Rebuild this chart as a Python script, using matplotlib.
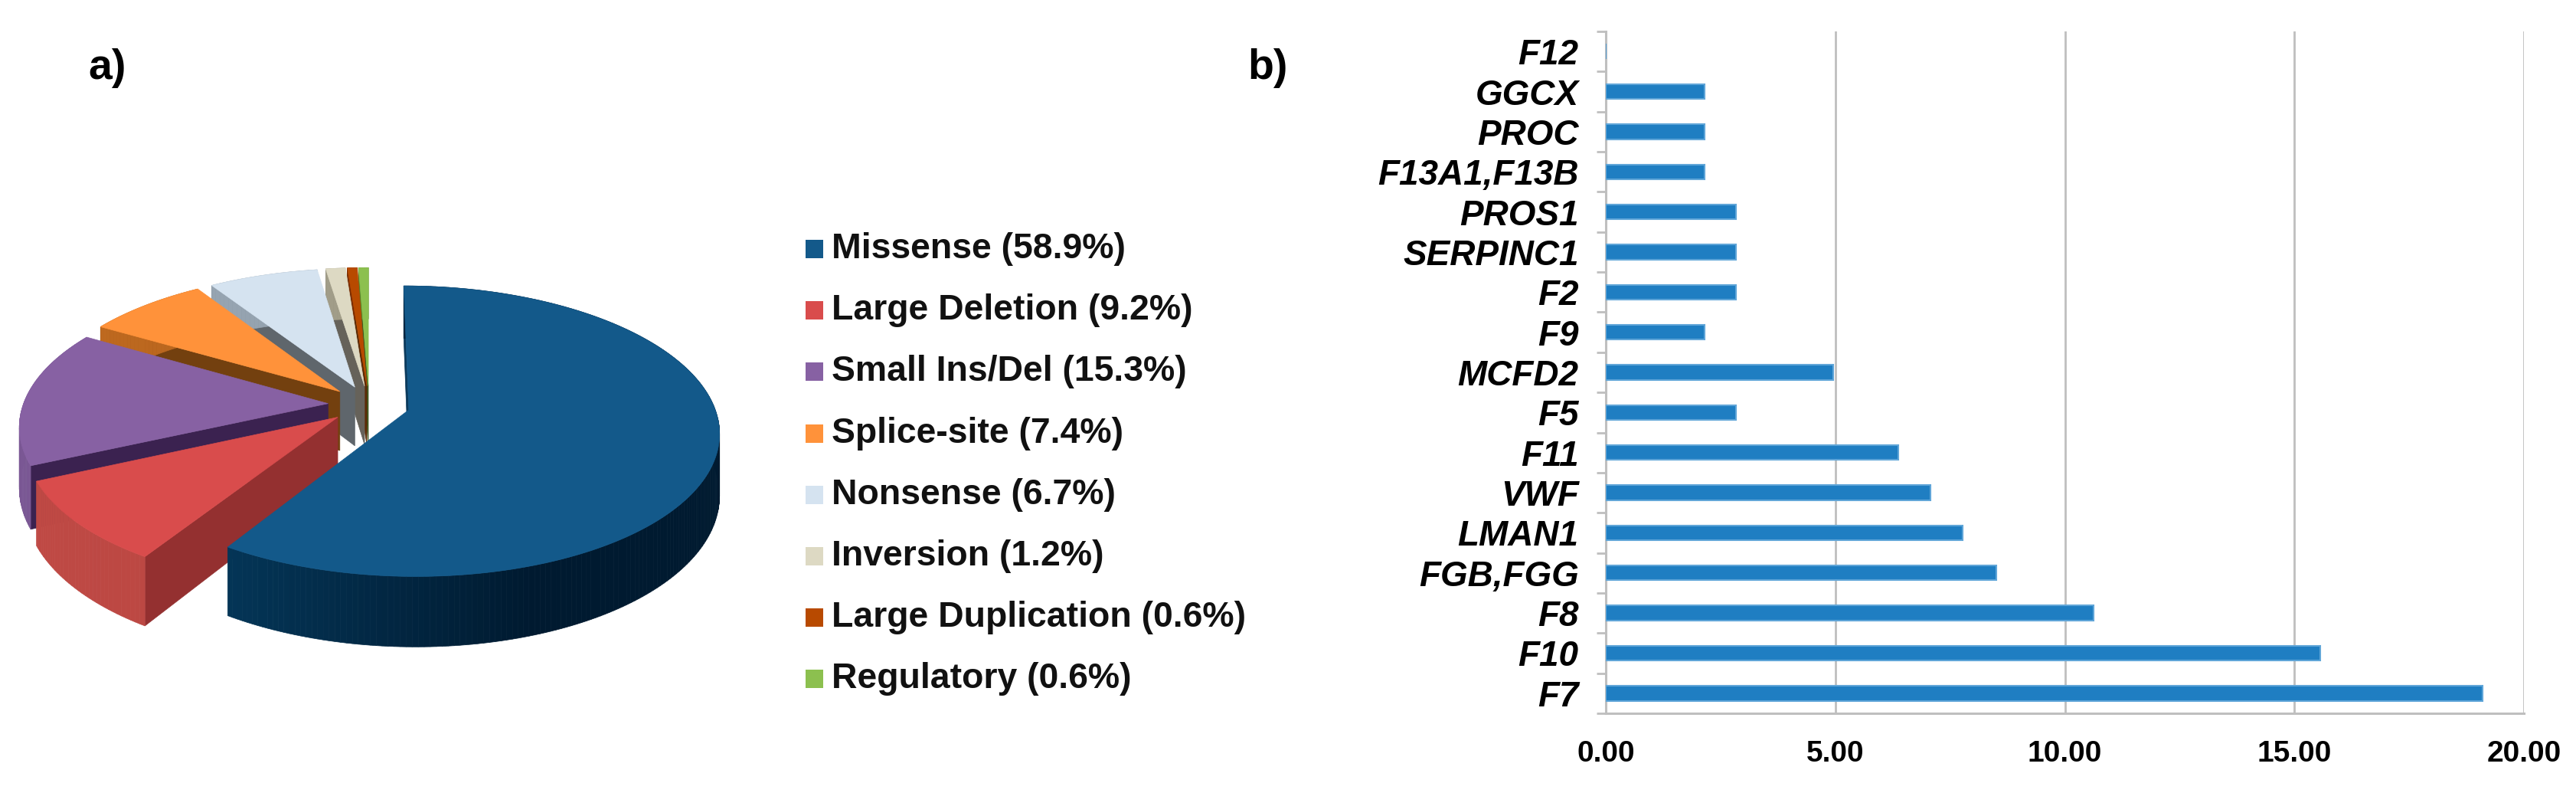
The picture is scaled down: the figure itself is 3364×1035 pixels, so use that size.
#!/usr/bin/env python3
"""Mutation types (3D exploded pie) and gene shares (bar chart)"""

import numpy as np
import matplotlib
matplotlib.use('Agg')
import matplotlib.pyplot as plt
from matplotlib.colors import to_rgb
from matplotlib.patches import Polygon, Rectangle

plt.rcParams['font.family'] = ['Liberation Sans', 'DejaVu Sans']

# Pie data
mutation_types = ['Missense', 'Large Deletion', 'Small Ins/Del', 'Splice-site',
                  'Nonsense', 'Inversion', 'Large Duplication', 'Regulatory']
mutation_pct = [58.9, 9.2, 15.3, 7.4, 6.7, 1.2, 0.6, 0.6]
top_colors = ['#13598A', '#D94C4C', '#8761A3', '#FF923A',
              '#D5E3F0', '#DDD9C3', '#B84A00', '#8CC04F']
wall_colors = ['#0B3A5C', '#943030', '#3B2250', '#73400F',
               '#5F666C', '#66625A', '#5A2A05', '#3F5A20']
rim_left = ['#06446C', '#C04A45', '#7A5794', '#C06A20',
            '#9AA8B5', '#A8A490', '#803000', '#60882F']
rim_right = ['#001A30', '#B0403C', '#6A4A84', '#A05818',
             '#8A98A5', '#98947F', '#702800', '#507820']

# Bar data
genes = ['F7', 'F10', 'F8', 'FGB,FGG', 'LMAN1', 'VWF', 'F11', 'F5', 'MCFD2',
         'F9', 'F2', 'SERPINC1', 'PROS1', 'F13A1,F13B', 'PROC', 'GGCX', 'F12']
gene_pct = [19.1, 15.57, 10.62, 8.5, 7.78, 7.08, 6.37, 2.83, 4.95,
            2.15, 2.83, 2.83, 2.83, 2.15, 2.15, 2.15, 0.0]
x_ticks = [0, 5, 10, 15, 20]

W, H = 3364, 1035

# Pie projection settings (pixels)
CX, CY = 482, 528
RX, RY = 398, 183.5
PERSP = 0.146
EXPLODE = 0.135
DEPTH = 78


def project(x, y, drop=0.0):
    """Project a point of the pie plane to pixel coordinates"""
    s = 1.0 / (1.0 + PERSP * y)
    return CX + RX * x * s, CY - RY * y * s + DEPTH * drop * s


def draw_pie(ax):
    fractions = np.array(mutation_pct) / sum(mutation_pct)
    edges = np.concatenate([[0], np.cumsum(fractions)]) * 2 * np.pi
    slices = list(range(len(fractions)))

    # Far slices first, Missense goes last
    for i in slices[1:][::-1] + [0]:
        a0, a1 = edges[i], edges[i + 1]
        mid = (a0 + a1) / 2
        ox, oy = EXPLODE * np.sin(mid), EXPLODE * np.cos(mid)
        angles = np.linspace(a0, a1, max(int((a1 - a0) * 60), 6))
        xs = ox + np.sin(angles)
        ys = oy + np.cos(angles)

        # Cut face on the leading edge
        wall = [project(ox, oy), project(xs[0], ys[0]),
                project(xs[0], ys[0], 1), project(ox, oy, 1)]
        ax.add_patch(Polygon(wall, facecolor=wall_colors[i],
                             edgecolor=wall_colors[i], lw=0.5))

        # Outer rim, shaded left to right
        left, right = np.array(to_rgb(rim_left[i])), np.array(to_rgb(rim_right[i]))
        for j in range(len(angles) - 1):
            t = (np.sin(angles[j]) + 1) / 2
            if i == 0:
                t = min(1.0, t * 1.5)
            color = left * (1 - t) + right * t
            quad = [project(xs[j], ys[j]), project(xs[j + 1], ys[j + 1]),
                    project(xs[j + 1], ys[j + 1], 1), project(xs[j], ys[j], 1)]
            ax.add_patch(Polygon(quad, facecolor=color, edgecolor=color, lw=0.5))

        # Top face
        top = [project(ox, oy)] + [project(x, y) for x, y in zip(xs, ys)]
        ax.add_patch(Polygon(top, facecolor=top_colors[i],
                             edgecolor=top_colors[i], lw=0.5))


def draw_legend(ax):
    for i, name in enumerate(mutation_types):
        y = 325 + i * 80.2
        ax.add_patch(Rectangle((1052, y - 12), 23, 24, facecolor=top_colors[i],
                               edgecolor='none'))
        ax.text(1086, y, f'{name} ({mutation_pct[i]}%)', fontsize=33.4,
                fontweight='bold', va='center', ha='left', color='#111111')


def draw_bars(fig):
    ax = fig.add_axes([2097 / W, 1 - 931 / H, (3296 - 2097) / W, (931 - 41) / H])
    y = np.arange(len(genes))
    ax.barh(y, gene_pct, height=0.37, color='#1F7EC2', edgecolor='#5FA5D8',
            linewidth=1.5, zorder=3)
    ax.set_xlim(0, 20)
    ax.set_ylim(-0.5, len(genes) - 0.5)

    ax.set_xticks(x_ticks)
    ax.set_xticklabels([f'{t:.2f}' for t in x_ticks], fontsize=28, fontweight='bold')
    ax.set_yticks(y)
    ax.set_yticklabels(genes, fontsize=33, fontweight='bold', style='italic')
    ax.set_yticks(np.arange(len(genes) + 1) - 0.5, minor=True)
    ax.tick_params(axis='y', which='major', length=0, pad=25.5)
    ax.tick_params(axis='y', which='minor', length=9, width=2, color='#BFBFBF')
    ax.tick_params(axis='x', length=0, pad=25)

    ax.grid(True, axis='x', color='#BFBFBF', linewidth=2, zorder=0)
    ax.set_axisbelow(True)
    for side in ['top', 'right']:
        ax.spines[side].set_visible(False)
    for side in ['left', 'bottom']:
        ax.spines[side].set_color('#BFBFBF')
        ax.spines[side].set_linewidth(2.2)


def main():
    fig = plt.figure(figsize=(W / 100, H / 100), dpi=100)
    ax = fig.add_axes([0, 0, 1, 1])
    ax.set_xlim(0, W)
    ax.set_ylim(H, 0)
    ax.axis('off')

    draw_pie(ax)
    draw_legend(ax)
    ax.text(115, 89, 'a)', fontsize=40, fontweight='bold', va='center', ha='left')
    ax.text(1629, 89, 'b)', fontsize=40, fontweight='bold', va='center', ha='left')

    draw_bars(fig)
    fig.savefig('out.png', dpi=100)
    plt.close(fig)


if __name__ == "__main__":
    main()
